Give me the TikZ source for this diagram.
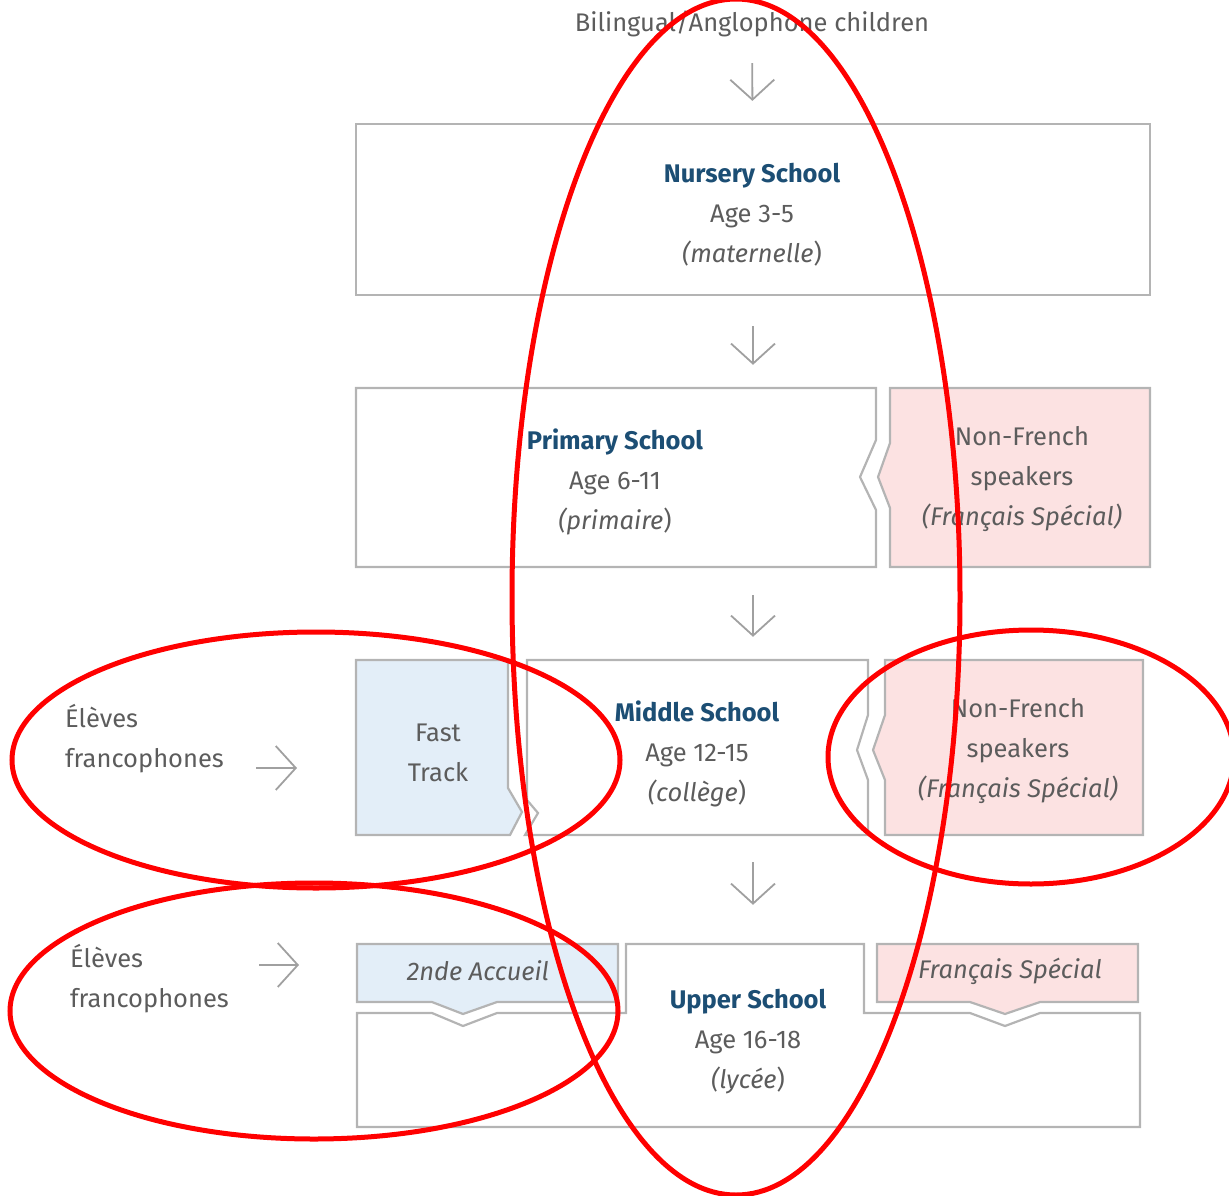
\documentclass[tikz,border=0pt]{standalone}
\usepackage{fontspec}
\setmainfont{Fira Sans}
\usetikzlibrary{arrows.meta,calc}

\definecolor{edgegray}{HTML}{B4B4B4}
\definecolor{txtgray}{HTML}{5C5C5C}
\definecolor{schoolblue}{HTML}{1C4E74}
\definecolor{trackblue}{HTML}{E3EEF8}
\definecolor{fspink}{HTML}{FCE2E2}
\definecolor{arrowgray}{HTML}{A0A0A0}

\tikzset{
  lbl/.style={font=\fontsize{25.5}{40}\selectfont, text=txtgray, align=center, inner sep=0pt},
  outline/.style={draw=edgegray, line width=2.2pt, line join=miter},
  rowarea/.style={rectangle, inner sep=0pt, minimum width=794pt},
  flow/.style={draw=arrowgray, line width=1.8pt, -{Straight Barb[length=20pt,width=44pt,line width=1.8pt]}},
  ring/.style={draw=red, line width=5pt}
}
\def\school(#1,#2,#3){{\color{schoolblue}\bfseries #1}\\#2\\\textit{#3}}

\begin{document}
\begin{tikzpicture}[x=1pt,y=-1pt]
\useasboundingbox (0,0) rectangle (1229,1196);

% boxes
\node[outline, rowarea, minimum height=171pt] (nursery) at (753,209.5) {};
\node[rowarea, minimum height=179pt] (primrow) at (753,477.5) {};
\node[rowarea, minimum height=175pt] (midrow) at (753,747.5) {};
\node[rowarea, minimum height=183pt] (upperrow) at (753,1035.5) {};

\draw[outline] (356,388) -- (876,388) -- (876,440) -- (860,477) -- (876,510) -- (876,567) -- (356,567) -- cycle;
\draw[outline, fill=fspink] (890,388) -- (1150,388) -- (1150,567) -- (890,567) -- (890,508) -- (878,477) -- (890,443) -- cycle;

\draw[outline, fill=trackblue] (356,660) -- (508,660) -- (508,788) -- (522,812) -- (510,835) -- (356,835) -- cycle;
\draw[outline] (527,660) -- (868,660) -- (868,715) -- (857,750) -- (868,780) -- (868,835) -- (525,835) -- (538,813) -- (527,800) -- cycle;
\draw[outline, fill=fspink] (885,660) -- (1143,660) -- (1143,835) -- (885,835) -- (885,780) -- (873,750) -- (885,715) -- cycle;

\draw[outline] (357,1013) -- (432,1013) -- (463,1026) -- (497,1013) -- (626,1013) -- (626,944) -- (864,944) -- (864,1013)
  -- (970,1013) -- (1005,1026) -- (1040,1013) -- (1140,1013) -- (1140,1127) -- (357,1127) -- cycle;
\draw[outline, fill=trackblue] (357,944) -- (618,944) -- (618,1002) -- (497,1002) -- (463,1014) -- (432,1002) -- (357,1002) -- cycle;
\draw[outline, fill=fspink] (877,944) -- (1138,944) -- (1138,1002) -- (1040,1002) -- (1005,1014) -- (970,1002) -- (877,1002) -- cycle;

% texts
\node[lbl] (kids) at (752,24) {Bilingual/Anglophone children};
\node[lbl] (nurserytxt) at (752,215) {\school(Nursery School,Age 3-5,(maternelle))};
\node[lbl] (primary) at (615,482) {\school(Primary School,Age 6-11,(primaire))};
\node[lbl] (nonfrA) at (1022,479) {Non-French\\speakers\\\textit{(Français Spécial)}};
\node[lbl] (fasttrack) at (438,753) {Fast\\Track};
\node[lbl] (middle) at (697,754) {\school(Middle School,Age 12-15,(collège))};
\node[lbl] (nonfrB) at (1018,751) {Non-French\\speakers\\\textit{(Français Spécial)}};
\node[lbl] (accueil) at (478,971) {\textit{2nde Accueil}};
\node[lbl] (upper) at (748,1042) {\school(Upper School,Age 16-18,(lycée))};
\node[lbl] (fsup) at (1010,971) {\textit{Français Spécial}};
\node[lbl, align=left, anchor=west] (elevesA) at (65,739) {Élèves\\francophones};
\node[lbl, align=left, anchor=west] (elevesB) at (70,979) {Élèves\\francophones};
\coordinate (ffA) at (297,768);
\coordinate (ffB) at (299,965);

% arrows
\draw[flow, shorten <=26pt, shorten >=22pt] (kids) -- (nursery);
\draw[flow, shorten <=30pt, shorten >=23pt] (nursery) -- (primrow);
\draw[flow, shorten <=28pt, shorten >=23pt] (primrow) -- (midrow);
\draw[flow, shorten <=27pt, shorten >=39pt] (midrow) -- (upperrow);
\draw[flow, shorten <=32pt] (elevesA.east |- ffA) -- (ffA);
\draw[flow, shorten <=30pt] (elevesB.east |- ffB) -- (ffB);

% red rings
\draw[ring] (736,597) ellipse [x radius=224pt, y radius=598pt];
\draw[ring] (316,760) ellipse [x radius=304pt, y radius=128pt];
\draw[ring] (1031,757) ellipse [x radius=203pt, y radius=127pt];
\draw[ring] (314,1011) ellipse [x radius=304pt, y radius=128pt];
\end{tikzpicture}
\end{document}
